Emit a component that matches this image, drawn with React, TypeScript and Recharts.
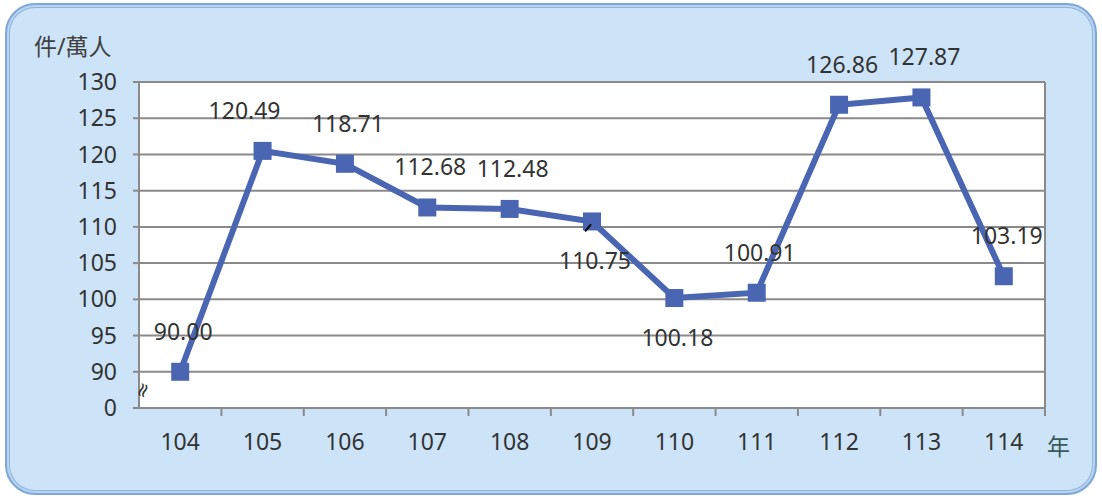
import { LineChart, Line, XAxis, YAxis, CartesianGrid, LabelList } from 'recharts';

// 年度 (民國) and 件/萬人
const years = ['104', '105', '106', '107', '108', '109', '110', '111', '112', '113', '114'];
const rates = [90.0, 120.49, 118.71, 112.68, 112.48, 110.75, 100.18, 100.91, 126.86, 127.87, 103.19];
// axis is broken: the lowest tick stands for 0
const yTicks = [85, 90, 95, 100, 105, 110, 115, 120, 125, 130];

const data = years.map((y, i) => ({ year: y, rate: rates[i] }));

const FONT = '"Noto Sans", "Noto Sans CJK TC", sans-serif';
const TXT = '#333';
const GRID = '#8a8a8a';
const BLUE = '#4a66b3';
const FS = 23;

// which labels sit under the point
const below = [5, 6];
const HALF = 41.2;

const XTick = (props: any) => {
  const { x, y, payload } = props;
  return (
    <g>
      <line x1={x + HALF} x2={x + HALF} y1={408} y2={416} stroke={GRID} strokeWidth={2} />
      <text x={x} y={y + 34} textAnchor="middle" fill={TXT} fontSize={FS} fontFamily={FONT}>
        {payload.value}
      </text>
    </g>
  );
};

const PointLabel = (props: any) => {
  const { x, y, value, index } = props;
  const isBelow = below.includes(index);
  const dx = index === 1 ? -18 : 3;
  return (
    <g>
      {index === 5 && <line x1={x - 7} x2={x - 1} y1={y + 10} y2={y + 3} stroke="#000" strokeWidth={2} />}
      <text
        x={x + dx}
        y={isBelow ? y + 48 : y - 32}
        textAnchor="middle"
        fill={TXT}
        fontSize={FS}
        fontFamily={FONT}
      >
        {Number(value).toFixed(2)}
      </text>
    </g>
  );
};

const Marker = (props: any) => {
  const { cx, cy } = props;
  return <rect x={cx - 9} y={cy - 9} width={18} height={18} fill={BLUE} />;
};

export default function App() {
  return (
    <div style={{ position: 'absolute', left: 0, top: 0, width: 1102, height: 500, background: '#fff' }}>
      <div
        style={{
          position: 'absolute',
          left: 5,
          top: 3,
          width: 1088,
          height: 488,
          borderRadius: 30,
          background: '#cde4f8',
          border: '2px solid #7ea8d8',
          boxShadow: 'inset 0 0 0 2px #b9d4ef, inset 0 0 0 3px #8fb4de',
        }}
      />
      <div style={{ position: 'absolute', left: 0, top: 0 }}>
        <LineChart width={1102} height={500} data={data} margin={{ top: 82, right: 57, bottom: 42, left: 79 }}>
          <CartesianGrid
            fill="#fff"
            stroke={GRID}
            strokeWidth={2}
            verticalCoordinatesGenerator={({ offset }: any) => [offset.left + offset.width]}
          />
          <XAxis
            dataKey="year"
            height={50}
            padding={{ left: HALF, right: HALF }}
            axisLine={{ stroke: GRID, strokeWidth: 2 }}
            tickLine={false}
            tick={<XTick />}
            interval={0}
          />
          <YAxis
            domain={[85, 130]}
            ticks={yTicks}
            width={60}
            interval={0}
            axisLine={{ stroke: GRID, strokeWidth: 2 }}
            tickLine={{ stroke: GRID, strokeWidth: 2 }}
            tickSize={6}
            tickMargin={16}
            tick={{ fill: TXT, fontSize: FS, fontFamily: FONT }}
            tickFormatter={(v: number) => (v === 85 ? '0' : String(v))}
          />
          <Line
            dataKey="rate"
            stroke={BLUE}
            strokeWidth={6}
            dot={<Marker />}
            activeDot={false}
            isAnimationActive={false}
          >
            <LabelList dataKey="rate" content={<PointLabel />} />
          </Line>
        </LineChart>
      </div>
      <div style={{ position: 'absolute', left: 34, top: 28, fontSize: FS, fontFamily: FONT, color: '#404040' }}>
        件/萬人
      </div>
      <div style={{ position: 'absolute', left: 1047, top: 428, fontSize: FS, fontFamily: FONT, color: '#3a5a5a' }}>
        年
      </div>
      <div
        style={{
          position: 'absolute',
          left: 134,
          top: 378,
          fontSize: 20,
          lineHeight: '24px',
          fontFamily: '"DejaVu Sans", sans-serif',
          color: '#333',
          transform: 'rotate(-70deg)',
        }}
      >
        ≈
      </div>
    </div>
  );
}
